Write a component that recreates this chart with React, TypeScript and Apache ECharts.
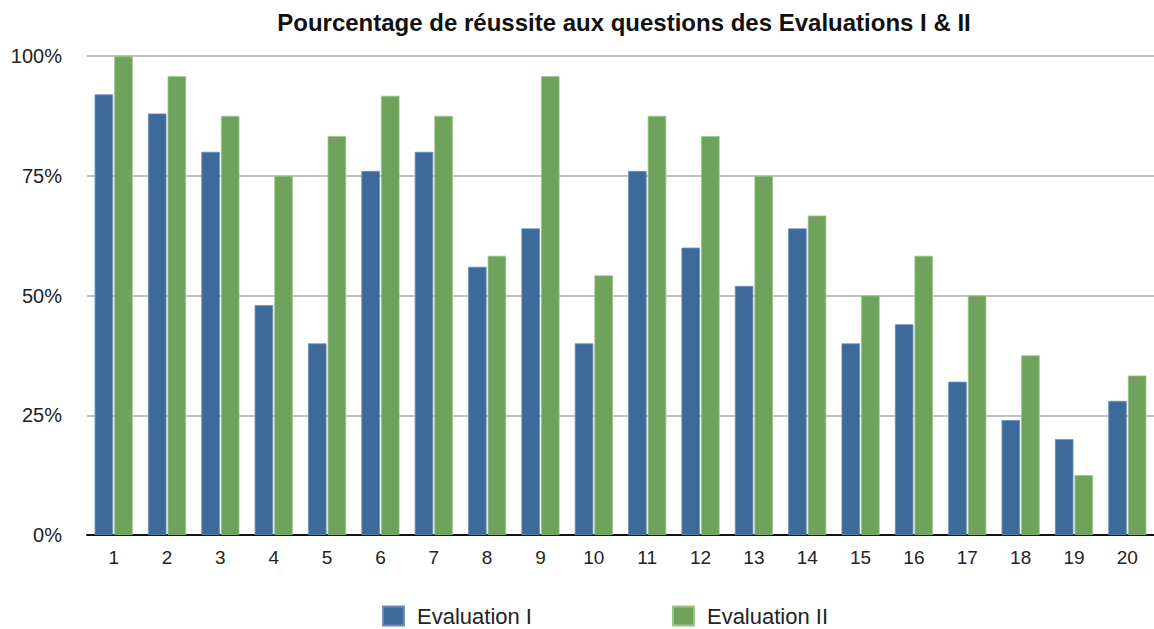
import React, { useEffect, useRef } from "react";
import * as echarts from "echarts";

const categories = ["1","2","3","4","5","6","7","8","9","10","11","12","13","14","15","16","17","18","19","20"];
const evaluationI = [92, 88, 80, 48, 40, 76, 80, 56, 64, 40, 76, 60, 52, 64, 40, 44, 32, 24, 20, 28];
const evaluationII = [100, 95.8, 87.5, 75, 83.3, 91.7, 87.5, 58.3, 95.8, 54.2, 87.5, 83.3, 75, 66.7, 50, 58.3, 50, 37.5, 12.5, 33.3];
const seriesNames = ["Evaluation I", "Evaluation II"];
const titleText = "Pourcentage de réussite aux questions des Evaluations I & II";

const FONT = "'Liberation Sans', Arial, Helvetica, sans-serif";

export default function App() {
  const ref = useRef<HTMLDivElement>(null);
  useEffect(() => {
    if (!ref.current) return;
    const chart = echarts.init(ref.current, undefined, { renderer: "svg" });
    chart.setOption({
      animation: false,
      backgroundColor: "#ffffff",
      title: {
        text: titleText,
        left: 619,
        top: 5,
        textAlign: "center",
        textStyle: { fontFamily: FONT, fontWeight: "bold", fontSize: 24, color: "#111" },
      },
      legend: {
        top: 599,
        left: 377,
        itemWidth: 21,
        itemHeight: 19,
        itemGap: 140,
        icon: "rect",
        textStyle: { fontFamily: FONT, fontSize: 22, lineHeight: 24, color: "#222", padding: [0, 0, 0, 8] },
        data: seriesNames,
      },
      grid: { left: 87, right: -8, top: 56, bottom: 94, containLabel: false },
      xAxis: {
        type: "category",
        data: categories,
        axisLine: { lineStyle: { color: "#111", width: 2 } },
        axisTick: { show: false },
        axisLabel: { fontFamily: FONT, fontSize: 19, color: "#222", margin: 13 },
      },
      yAxis: {
        type: "value",
        min: 0,
        max: 100,
        interval: 25,
        axisLine: { show: false },
        axisTick: { show: false },
        splitLine: { lineStyle: { color: "#c2c2c2", width: 2 } },
        axisLabel: { fontFamily: FONT, fontSize: 20, color: "#222", margin: 25, formatter: "{value}%" },
      },
      series: [
        {
          name: seriesNames[0],
          type: "bar",
          data: evaluationI,
          barWidth: 18.5,
          barGap: "6%",
          itemStyle: { color: "#3d6a9b", borderColor: "#6c8fb6", borderWidth: 0.8 },
        },
        {
          name: seriesNames[1],
          type: "bar",
          data: evaluationII,
          barWidth: 18.5,
          barGap: "6%",
          itemStyle: { color: "#6fa35c", borderColor: "#9cc28d", borderWidth: 0.8 },
        },
      ],
    });
    return () => chart.dispose();
  }, []);
  return (
    <div
      ref={ref}
      style={{ position: "fixed", left: 0, top: 0, width: 1154, height: 629, background: "#fff" }}
    />
  );
}
